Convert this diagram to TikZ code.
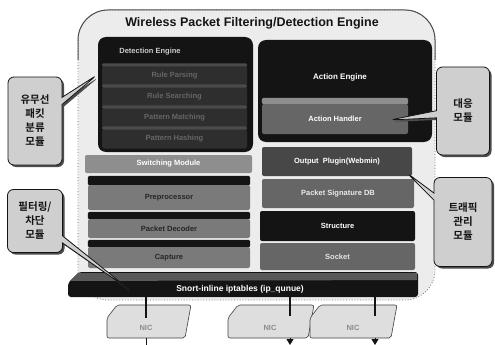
\documentclass[tikz,border=0pt]{standalone}
\usepackage{fontspec}
\setmainfont{Liberation Sans}
\newfontfamily\krfont{Noto Sans CJK KR Bold}
\usetikzlibrary{shapes.callouts,shadows,arrows.meta}

\definecolor{ink}{HTML}{141414}
\definecolor{paper}{HTML}{ECECEC}
\definecolor{slabdark}{HTML}{2E2E2E}
\definecolor{slabtop}{HTML}{4A4A4A}
\definecolor{midgray}{HTML}{7A7A7A}
\definecolor{lightgray}{HTML}{8E8E8E}
\definecolor{boxgray}{HTML}{666666}
\definecolor{calloutfill}{HTML}{CFCFCF}
\definecolor{nicfill}{HTML}{DEDEDE}

\tikzset{
  x=1pt, y=-1pt,
  box/.style={rectangle, draw=none, inner sep=0pt, rounded corners=2pt},
  strip/.style 2 args={append after command={\pgfextra{%
      \fill[#1, rounded corners=1.5pt] ([yshift=-0.5pt]\tikzlastnode.north west)
        rectangle ([yshift=#2]\tikzlastnode.north east);}}},
  bold/.style={font=\bfseries\fontsize{#1}{#1}\selectfont},
  wtext/.style={bold=7.5, text=white},
  dtext/.style={bold=7.5, text=#1},
  callbox/.style={rectangle callout, rounded corners=6pt, fill=calloutfill,
    draw=ink, line width=0.8pt, align=center, text=ink,
    font=\krfont\fontsize{10.5}{14}\selectfont,
    drop shadow={shadow xshift=2pt, shadow yshift=-2pt, fill=black!70, opacity=1}},
  nicface/.style={fill=nicfill, draw=black!75, line width=0.6pt, rounded corners=2pt},
  niclabel/.style={rectangle, minimum width=76pt, minimum height=20pt, inner sep=0pt,
    bold=7.5, text=black!45},
  tick/.style={line width=1.2pt, draw=ink},
  downarrow/.style={draw=ink, line width=0.9pt, -{Triangle[length=6pt,width=7pt]}},
}

\begin{document}
\begin{tikzpicture}
\useasboundingbox (0,0) rectangle (495,345);
\fill[white] (0,0) rectangle (495,345);

% outer engine frame
\draw[fill=paper, draw=black!55, line width=0.8pt, dotted, rounded corners=30pt]
  (78,10) rectangle (435,300);
\draw[black!70, line width=1pt, rounded corners=30pt]
  (78,60) -- (78,10) -- (435,10) -- (435,60);
\node[bold=12.5, text=ink] (title) at (252,23) {Wireless Packet Filtering/Detection Engine};

% ---------- left column ----------
\node[box, fill=ink, rounded corners=8pt, minimum width=155pt, minimum height=115pt]
  (det) at (175.5,94.5) {};
\node[bold=7.5, text=black!20] (detlbl) at (150,52) {Detection Engine};

\node[box, fill=slabdark, minimum width=145pt, minimum height=19pt, strip={slabtop}{3pt},
  dtext=black!60] (rp) at (174.5,76) {Rule Parsing};
\node[box, fill=slabdark, minimum width=145pt, minimum height=19pt, strip={slabtop}{3pt},
  dtext=black!60] (rs) at (174.5,97) {Rule Searching};
\node[box, fill=slabdark, minimum width=145pt, minimum height=19pt, strip={slabtop}{3pt},
  dtext=black!60] (pm) at (174.5,118) {Pattern Matching};
\node[box, fill=slabdark, minimum width=145pt, minimum height=19pt, strip={slabtop}{3pt},
  dtext=black!60] (ph) at (174.5,139) {Pattern Hashing};

\node[box, fill=lightgray, minimum width=167pt, minimum height=18pt, wtext]
  (sw) at (168.5,164) {Switching Module};

\node[box, fill=midgray, minimum width=162pt, minimum height=25pt, strip={ink}{9pt},
  dtext=black!85] (pre) at (169,197.5) {Preprocessor};
\node[box, fill=midgray, minimum width=162pt, minimum height=19pt, strip={ink}{7pt},
  dtext=black!85] (dec) at (169,228.5) {Packet Decoder};
\node[box, fill=midgray, minimum width=162pt, minimum height=21pt, strip={ink}{7pt},
  dtext=black!85] (cap) at (169,257.5) {Capture};

% ---------- right column ----------
\node[box, fill=ink, rounded corners=8pt, minimum width=174pt, minimum height=102pt]
  (ae) at (345,91) {};
\node[wtext, bold=8] (aelbl) at (340,77) {Action Engine};
\node[box, fill=boxgray, minimum width=146pt, minimum height=30pt, strip={lightgray}{6pt},
  wtext] (ah) at (335,119) {Action Handler};

\node[box, fill=black!72, minimum width=150pt, minimum height=29pt, wtext]
  (op) at (337,161.5) {Output\ \ Plugin(Webmin)};
\node[box, fill=boxgray, minimum width=152pt, minimum height=29pt, dtext=black!8]
  (db) at (338,193.5) {Packet Signature DB};
\node[box, fill=ink, minimum width=155pt, minimum height=30pt, wtext]
  (st) at (337.5,226) {Structure};
\node[box, fill=boxgray, minimum width=155pt, minimum height=27pt, dtext=black!10]
  (so) at (337.5,256.5) {Socket};

% ---------- iptables bar ----------
\fill[ink, rounded corners=3pt] (68,297) -- (68,283) -- (79,272) -- (418,272) -- (418,297) -- cycle;
\fill[black!65] (70,281) -- (78,273) -- (417,273) -- (417,280) -- cycle;
\node[bold=8.5, text=white] (bar) at (240,289) {Snort-inline iptables (ip\_qunue)};

% ---------- network cards ----------
\draw[nicface] (107,338) -- (107,318) -- (117,305) -- (191,305) -- (185,338) -- cycle;
\draw[nicface] (228,338) -- (228,318) -- (238,305) -- (314,305) -- (308,338) -- cycle;
\draw[nicface] (310,338) -- (310,318) -- (320,305) -- (397,305) -- (391,338) -- cycle;
\node[niclabel] (nic1) at (146,328) {NIC};
\node[niclabel] (nic2) at (270,328) {NIC};
\node[niclabel] (nic3) at (353,328) {NIC};

\coordinate (t1) at (146,297);
\coordinate (t2) at (290,297);
\coordinate (t3) at (375,297);
\draw[tick] (t1) -- (t1 |- nic1.north);
\draw[tick] (t2) -- ([yshift=2pt]t2 |- nic2.north);
\draw[tick] (t3) -- ([yshift=2pt]t3 |- nic3.north);

\coordinate (o1) at (146,345);
\coordinate (o2) at (290,345);
\coordinate (o3) at (375,345);
\draw[line width=1pt, ink] (o1 |- nic1.south) -- (o1);
\draw[downarrow] (o2 |- nic2.south) -- (o2);
\draw[downarrow] (o3 |- nic3.south) -- (o3);

% ---------- module callouts ----------
\node[callbox, minimum width=54pt, minimum height=88pt,
  callout absolute pointer={(97,75)}] (cls) at (35,121)
  {유무선\\패킷\\분류\\모듈};
\node[callbox, minimum width=55pt, minimum height=63pt,
  callout absolute pointer={(130,290)}] (flt) at (35,221)
  {필터링/\\차단\\모듈};
\node[callbox, minimum width=53pt, minimum height=88pt,
  callout absolute pointer={(390,120)}] (rsp) at (463,111)
  {대응\\모듈};
\node[callbox, minimum width=58pt, minimum height=89pt,
  callout absolute pointer={(407,173)}] (trf) at (463,222)
  {트래픽\\관리\\모듈};
\end{tikzpicture}
\end{document}
